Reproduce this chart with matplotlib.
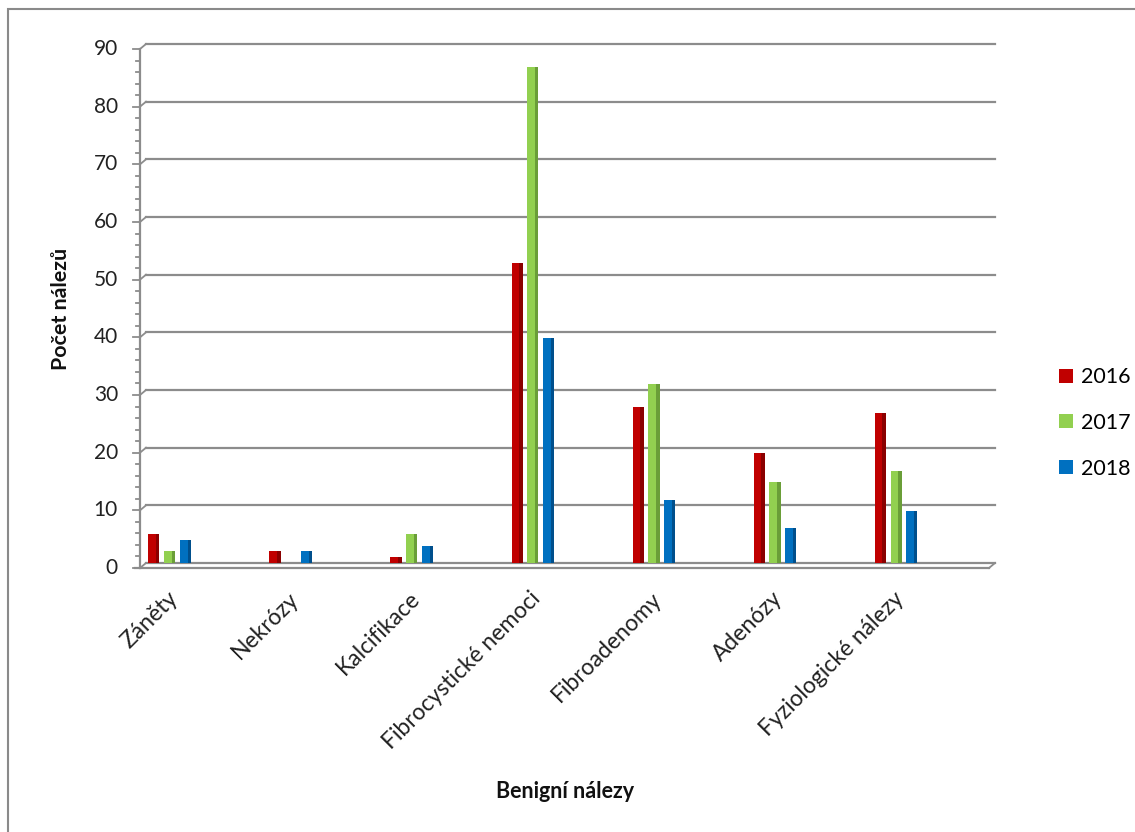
import numpy as np
import matplotlib
matplotlib.use('Agg')
import matplotlib.pyplot as plt
from matplotlib.patches import Patch, Rectangle
from matplotlib.transforms import ScaledTranslation

plt.rcParams['font.family'] = ['Lato', 'DejaVu Sans']

categories = ['Záněty', 'Nekrózy', 'Kalcifikace', 'Fibrocystické nemoci',
              'Fibroadenomy', 'Adenózy', 'Fyziologické nálezy']
years = ['2016', '2017', '2018']
v2016 = [5, 2, 1, 52, 27, 19, 26]
v2017 = [2, 0, 5, 86, 31, 14, 16]
v2018 = [4, 2, 3, 39, 11, 6, 9]

colors = ['#C00000', '#92D050', '#0070C0']
shade = ['#8A0000', '#6A9E38', '#004F8C']
grid_col = '#8C8C8C'

W, H = 1135, 832
fig = plt.figure(figsize=(W / 100, H / 100), dpi=100)

# outer chart frame
fig.patches.append(Rectangle((8 / W, -0.1), 1.2, 1 - 9 / H + 0.1, transform=fig.transFigure,
                             fill=False, edgecolor='#8A8A8A', lw=1.5))

ax = fig.add_axes([146 / W, 1 - 563 / H, (995 - 146) / W, (563 - 44) / H])
ax.set_xlim(-0.198, 6.818)
ax.set_ylim(0, 90)
ax.axis('off')

aw, ah = ax.bbox.width, ax.bbox.height
dx = 6 / aw              # depth shift of the wall, axes units
dy = 5 / ah * 90         # same shift in data units
front = ax.get_yaxis_transform() + ScaledTranslation(-6 / 100, -5 / 100, fig.dpi_scale_trans)

# back wall gridlines and their kinks to the front axis
for v in range(0, 100, 10):
    ax.plot([0, 1], [v, v], transform=ax.get_yaxis_transform(), color=grid_col, lw=1.6,
            clip_on=False, zorder=1)
    ax.plot([0, dx], [v, v + dy], transform=front, color=grid_col, lw=1.3, clip_on=False, zorder=1)
    ax.plot([0, -7 / aw], [v, v], transform=front, color=grid_col, lw=1.3, clip_on=False)
    ax.text(-22 / aw, v, str(v), transform=front, ha='right', va='center', fontsize=15,
            color='#222222')
for v in range(2, 90, 2):
    if v % 10:
        ax.plot([0, -4 / aw], [v, v], transform=front, color=grid_col, lw=1.3, clip_on=False)

# front value axis and floor edge
ax.plot([0, 0], [0, 90], transform=front, color=grid_col, lw=1.6, clip_on=False)
ax.plot([-5 / aw, 1], [0, 0], transform=front, color=grid_col, lw=1.6, clip_on=False)
ax.plot([1, 1 + dx], [0, dy], transform=front, color=grid_col, lw=1.3, clip_on=False)

x = np.arange(len(categories))
bw = 0.091
step = 0.132
for i, vals in enumerate([v2016, v2017, v2018]):
    pos = x + (i - 1) * step
    ax.bar(pos, vals, bw, color=colors[i], zorder=3, linewidth=0)
    ax.bar(pos + bw * 0.35, vals, bw * 0.3, color=shade[i], zorder=4, linewidth=0)

lab_t = ax.get_xaxis_transform() + ScaledTranslation(-3 / 100, -25 / 100, fig.dpi_scale_trans)
for xi, c in zip(x, categories):
    ax.text(xi, 0, c, transform=lab_t, rotation=45, ha='right', va='top',
            rotation_mode='anchor', fontsize=16.5, color='#222222')

fig.text(61 / W, 1 - 309 / H, 'Počet nálezů', rotation=90, ha='center', va='center',
         fontsize=15.4, fontweight='bold', color='#111111')
fig.text(565 / W, 1 - 792 / H, 'Benigní nálezy', ha='center', va='center',
         fontsize=15.5, fontweight='bold', color='#111111')

handles = [Patch(facecolor=c, edgecolor='none') for c in colors]
fig.legend(handles, years, loc='center left', bbox_to_anchor=(1040 / W, 1 - 423 / H),
           frameon=False, fontsize=15.5, handlelength=0.62, handleheight=0.62,
           handletextpad=0.4, labelspacing=1.2)

fig.savefig('out.png', dpi=100)
